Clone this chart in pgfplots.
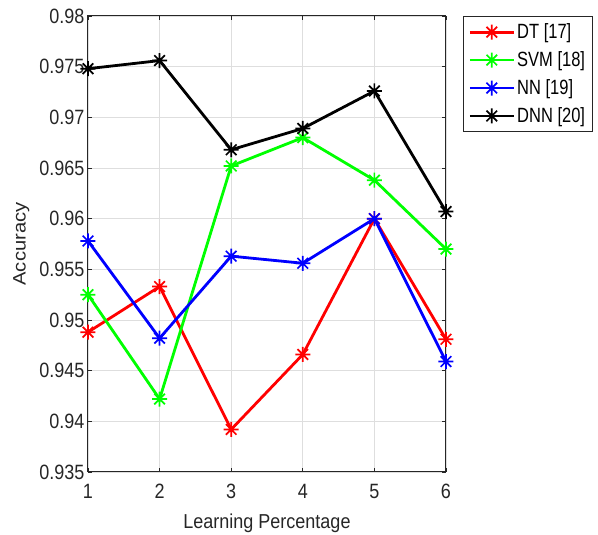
\documentclass[border=0pt]{standalone}
\usepackage{fontspec}
\setmainfont{Liberation Sans}
\usepackage{pgfplots}
\pgfplotsset{compat=1.18}
\definecolor{axgray}{rgb}{0.15,0.15,0.15}
\definecolor{gridgray}{rgb}{0.87,0.87,0.87}
\pgfdeclareplotmark{mstar}{%
  \pgfpathmoveto{\pgfqpoint{-\pgfplotmarksize}{0pt}}%
  \pgfpathlineto{\pgfqpoint{\pgfplotmarksize}{0pt}}%
  \pgfpathmoveto{\pgfqpoint{0pt}{-\pgfplotmarksize}}%
  \pgfpathlineto{\pgfqpoint{0pt}{\pgfplotmarksize}}%
  \pgfpathmoveto{\pgfqpointpolar{45}{\pgfplotmarksize}}%
  \pgfpathlineto{\pgfqpointpolar{225}{\pgfplotmarksize}}%
  \pgfpathmoveto{\pgfqpointpolar{135}{\pgfplotmarksize}}%
  \pgfpathlineto{\pgfqpointpolar{315}{\pgfplotmarksize}}%
  \pgfusepathqstroke}
\newcommand{\legtxt}[1]{\scalebox{1}[1.25]{#1}}
\begin{document}
\begin{tikzpicture}
\begin{axis}[
  at={(0pt,0pt)}, anchor=south west,
  scale only axis, width=358pt, height=456pt,
  xmin=1, xmax=6, ymin=0.935, ymax=0.98,
  xtick={1,2,3,4,5,6},
  ytick={0.935,0.94,0.945,0.95,0.955,0.96,0.965,0.97,0.975,0.98},
  yticklabels={0.935,0.94,0.945,0.95,0.955,0.96,0.965,0.97,0.975,0.98},
  /pgf/number format/assume math mode=true,
  tick align=inside, major tick length=4pt,
  grid=major,
  major grid style={gridgray, line width=0.8pt},
  axis line style={axgray, line width=1pt},
  tick style={axgray, line width=0.8pt},
  ticklabel style={font=\fontsize{18}{21.6}\selectfont, text=axgray, yscale=1.15, transform shape},
  xticklabel style={yshift=-7pt},
  label style={font=\fontsize{18}{21.6}\selectfont, text=axgray},
  xlabel={Learning Percentage},
  ylabel={Accuracy},
  xlabel style={at={(axis description cs:0.5,-0.112)}, anchor=center, yscale=1.12, transform shape},
  ylabel style={at={(axis description cs:-0.186,0.5)}, anchor=center, xscale=1.12, transform shape},
  clip=false,
  every axis plot/.append style={line width=2.8pt, mark=mstar, mark size=7.5pt,
     mark options={line width=1.7pt, solid}},
  legend style={at={(1,1)}, xshift=17pt, anchor=north west,
     font=\fontsize{16.5}{19}\selectfont, text=black, draw=axgray, line width=0.8pt,
     inner xsep=5pt, inner ysep=3.5pt, row sep=3.5pt, nodes={inner ysep=4pt}},
  legend cell align=left,
  legend image code/.code={\draw[mark repeat=2,mark phase=2,#1] plot coordinates {(0pt,0pt) (22pt,0pt) (44pt,0pt)};},
]
\addplot[color=red] coordinates {(1,0.9488) (2,0.9533) (3,0.9392) (4,0.9466) (5,0.9600) (6,0.9481)};
\addlegendentry{\legtxt{DT [17]}}
\addplot[color=green] coordinates {(1,0.9525) (2,0.9422) (3,0.9652) (4,0.9680) (5,0.9638) (6,0.9570)};
\addlegendentry{\legtxt{SVM [18]}}
\addplot[color=blue] coordinates {(1,0.9578) (2,0.9482) (3,0.9563) (4,0.9556) (5,0.9600) (6,0.9459)};
\addlegendentry{\legtxt{NN [19]}}
\addplot[color=black] coordinates {(1,0.9748) (2,0.9756) (3,0.9668) (4,0.9689) (5,0.9726) (6,0.9607)};
\addlegendentry{\legtxt{DNN [20]}}
\end{axis}
\pgfresetboundingbox
\useasboundingbox (-88pt,-63pt) rectangle (510pt,472pt);
\end{tikzpicture}
\end{document}
